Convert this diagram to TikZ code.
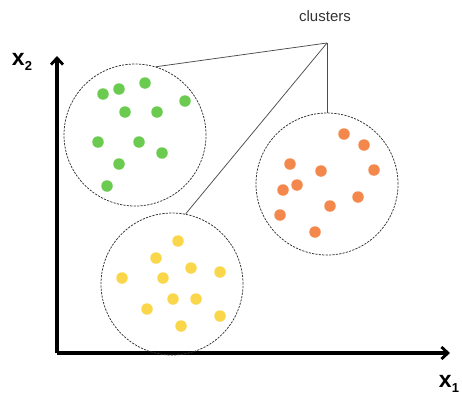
\documentclass[tikz,border=0pt]{standalone}
\usepackage{fontspec}
\setmainfont{Liberation Sans}
\usetikzlibrary{arrows.meta}
\definecolor{dotgreen}{HTML}{6BCB50}
\definecolor{dotorange}{HTML}{F4884C}
\definecolor{dotyellow}{HTML}{FAD64B}
\begin{document}
\begin{tikzpicture}[x=1pt,y=-1pt,
  cluster/.style={circle,draw=black!80,dashed,dash pattern=on 2.2pt off 1.2pt,line width=0.75pt,minimum size=142pt,inner sep=0pt},
  pt/.style={circle,fill=#1,minimum size=11.5pt,inner sep=0pt},
  axis/.style={line width=3.1pt,-{Straight Barb[length=6.5pt,width=12pt,line width=2.8pt]}},
  link/.style={draw=black!70,line width=0.75pt},
  axlabel/.style={font=\fontsize{23}{23}\selectfont\bfseries,inner sep=0pt}]
\useasboundingbox (0,0) rectangle (462,394);

% axes
\coordinate (o) at (57,353);
\coordinate (xend) at (450,353);
\coordinate (yend) at (57,56);
\draw[axis] (o) -- (xend);
\draw[axis] (o) -- (yend);
\node[axlabel] (xlab) at (449,384) {x\raisebox{-0.35ex}{\fontsize{13}{13}\selectfont 1}};
\node[axlabel] (ylab) at (22,62) {x\raisebox{-0.35ex}{\fontsize{13}{13}\selectfont 2}};

% the three clusters
\node[cluster] (cg) at (135,135) {};
\node[cluster] (co) at (327,184) {};
\node[cluster] (cy) at (172,284) {};

% green points
\foreach \px/\py [count=\i] in {103/94,119/89,145/83,185/101,125/112,157/112,98/142,139/142,162/153,119/164,107/186}
  \node[pt=dotgreen] (g\i) at (\px,\py) {};
% orange points
\foreach \px/\py [count=\i] in {344/134,364/145,290/164,321/171,374/170,283/190,297/185,358/197,330/206,280/215,315/232}
  \node[pt=dotorange] (r\i) at (\px,\py) {};
% yellow points
\foreach \px/\py [count=\i] in {178/241,156/258,191/268,220/272,122/278,163/278,173/299,196/299,147/309,220/316,181/326}
  \node[pt=dotyellow] (y\i) at (\px,\py) {};

% label and its connectors
\node[font=\fontsize{15}{15}\selectfont,text=black!80] (lab) at (325,16) {clusters};
\coordinate (apex) at (327,43);
\draw[link] (apex) -- (cg.73);
\draw[link] (apex) -- (cy.79);
\draw[link] (apex) -- (co.90);
\end{tikzpicture}
\end{document}
